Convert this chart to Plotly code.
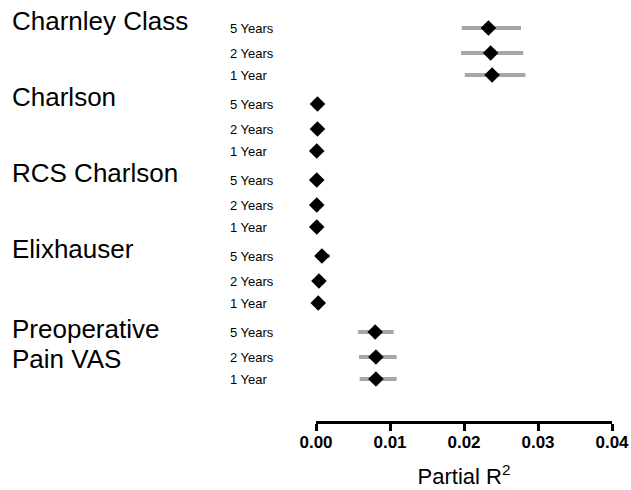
import plotly.graph_objects as go

groups = ["Charnley Class", "Charlson", "RCS Charlson", "Elixhauser", ["Preoperative", "Pain VAS"]]
years = ["5 Years", "2 Years", "1 Year"]

# Partial R^2 estimates per group, ordered 5y, 2y, 1y
est = [
    [0.0233, 0.0236, 0.0238],
    [0.0002, 0.0002, 0.0001],
    [0.0001, 0.0001, 0.0001],
    [0.0008, 0.0004, 0.0003],
    [0.0080, 0.0081, 0.0081],
]
lo = [
    [0.0197, 0.0196, 0.0201],
    [0.0000, 0.0000, 0.0000],
    [0.0000, 0.0000, 0.0000],
    [0.0003, 0.0001, 0.0001],
    [0.0057, 0.0058, 0.0059],
]
hi = [
    [0.0277, 0.0280, 0.0283],
    [0.0004, 0.0004, 0.0003],
    [0.0003, 0.0003, 0.0003],
    [0.0019, 0.0008, 0.0006],
    [0.0105, 0.0109, 0.0109],
]

# layout units for the vertical arrangement
group_step = 76
year_offset = [0, 25, 47]

xs, ys, em, ep = [], [], [], []
for g in range(len(groups)):
    for k in range(len(years)):
        xs.append(est[g][k])
        ys.append(g * group_step + year_offset[k])
        em.append(est[g][k] - lo[g][k])
        ep.append(hi[g][k] - est[g][k])

fig = go.Figure()
fig.add_trace(go.Scatter(
    x=xs, y=ys, mode="markers",
    marker=dict(symbol="diamond", size=12, color="black"),
    error_x=dict(type="data", symmetric=False, array=ep, arrayminus=em,
                 color="#a6a6a6", thickness=4, width=0),
    cliponaxis=False, showlegend=False, hoverinfo="skip",
))

FONT = "Liberation Sans, Arial"
annotations = []
for g, name in enumerate(groups):
    y0 = g * group_step
    lines = name if isinstance(name, list) else [name]
    if len(lines) == 1:
        positions = [y0 - 7]
    else:
        positions = [y0 - 3, y0 + 27]
    for line, ypos in zip(lines, positions):
        annotations.append(dict(x=-1.034, y=ypos, xref="paper", yref="y", text=line,
                                showarrow=False, xanchor="left", yanchor="middle", align="left",
                                font=dict(size=26, family=FONT, color="black")))
    for k, yr in enumerate(years):
        annotations.append(dict(x=-0.297, y=y0 + year_offset[k], xref="paper", yref="y", text=yr,
                                showarrow=False, xanchor="left", yanchor="middle",
                                font=dict(size=13, family=FONT, color="black")))

fig.update_layout(
    width=631, height=490,
    margin=dict(l=316, r=19, t=0, b=69),
    plot_bgcolor="white", paper_bgcolor="white",
    annotations=annotations,
    xaxis=dict(range=[0, 0.04], tickvals=[0, 0.01, 0.02, 0.03, 0.04], tickformat=".2f",
               showline=True, linecolor="black", linewidth=3, ticks="outside", ticklen=7,
               tickwidth=3, tickcolor="black", showgrid=False, zeroline=False,
               ticklabelstandoff=-3,
               tickfont=dict(size=17, family=FONT, color="black", weight="bold"),
               title=dict(text="Partial R<sup>2</sup>", standoff=18,
                          font=dict(size=22, family=FONT, color="black"))),
    yaxis=dict(range=[393, -28], visible=False, showgrid=False, zeroline=False),
)

fig.write_html("out.html", config={"displayModeBar": False},
               post_script="document.body.style.margin='0';document.body.style.overflow='hidden';")
